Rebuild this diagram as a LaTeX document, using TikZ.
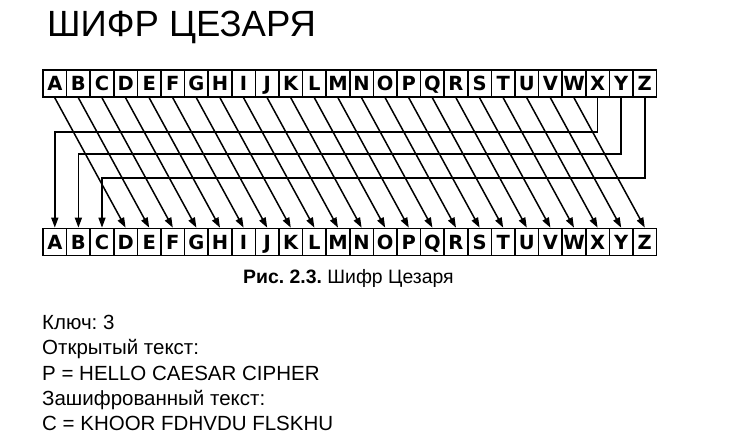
\documentclass[tikz,border=0pt]{standalone}
\usepackage{fontspec}
\setmainfont{Liberation Sans}
\newfontfamily\boxfont{DejaVu Sans}
\usetikzlibrary{arrows.meta}
\frenchspacing
\begin{document}
\begin{tikzpicture}[x=1pt,y=-1pt,
  letterbox/.style={draw, line width=1.7pt, minimum width=23.6pt, minimum height=27pt,
    inner sep=0pt, font=\boxfont\bfseries\fontsize{19.5}{19.5}\selectfont, text height=14.2pt, text depth=0pt},
  conn/.style={line width=1.5pt, -{Triangle[length=10pt,width=7pt]}},
  txt/.style={anchor=base west, inner sep=0pt, font=\fontsize{20.5}{20.5}\selectfont}]
\path[use as bounding box] (0,0) rectangle (750,446);
\node[anchor=base west, inner sep=0pt, font=\fontsize{36.5}{36.5}\selectfont] (title) at (47,37) {ШИФР ЦЕЗАРЯ};
\foreach \L [count=\i] in {A,B,C,D,E,F,G,H,I,J,K,L,M,N,O,P,Q,R,S,T,U,V,W,X,Y,Z} {
  \node[letterbox] (t\i) at ({43+(\i-0.5)*23.6},83.5) {\L};
  \node[letterbox] (b\i) at ({43+(\i-0.5)*23.6},242) {\L};
}
\foreach \i in {1,...,23} {
  \pgfmathtruncatemacro\j{\i+3}
  \draw[conn] (t\i.south) -- (b\j.north);
}
\draw[conn] (t24.south) -- ++(0,34) -| (b1.north);
\draw[conn] (t25.south) -- ++(0,56) -| (b2.north);
\draw[conn] (t26.south) -- ++(0,80) -| (b3.north);
\node[anchor=base west, inner sep=0pt, font=\fontsize{19.4}{19.4}\selectfont] (cap) at (243,284) {\textbf{Рис. 2.3.} Шифр Цезаря};
\node[txt] (l1) at (42,330) {Ключ: 3};
\node[txt] (l2) at (42,355) {Открытый текст:};
\node[txt] (l3) at (42,381) {P = HELLO CAESAR CIPHER};
\node[txt] (l4) at (42,406) {Зашифрованный текст:};
\node[txt] (l5) at (42,430) {C = KHOOR FDHVDU FLSKHU};
\end{tikzpicture}
\end{document}
